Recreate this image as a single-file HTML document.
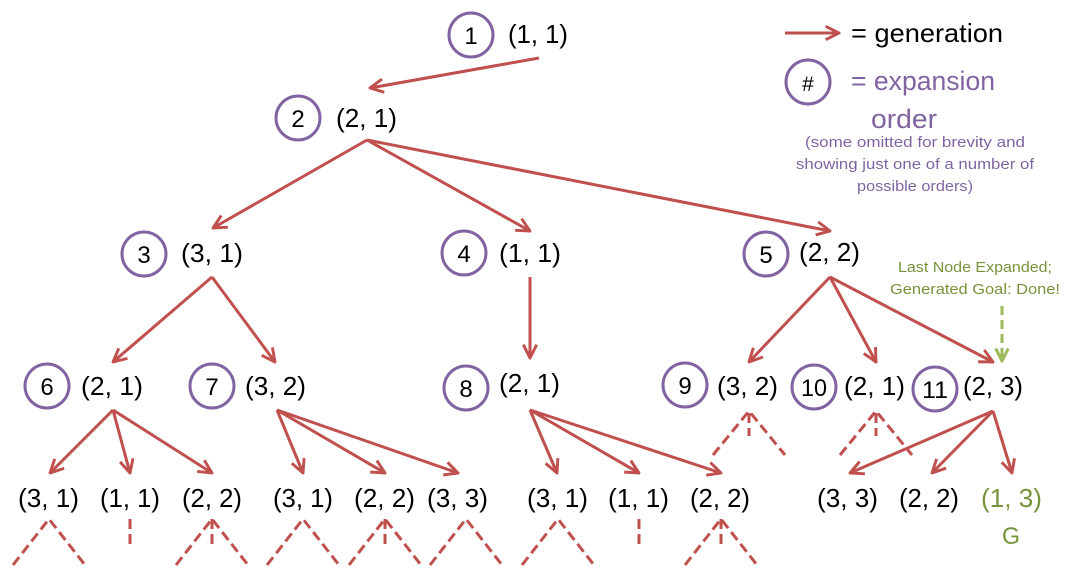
<!DOCTYPE html>
<html>
<head>
<meta charset="utf-8">
<style>
html,body{margin:0;padding:0;background:#fff;}
svg{display:block;}
text{font-family:"Liberation Sans",Arial,sans-serif;}
</style>
</head>
<body>
<svg width="1069" height="573" viewBox="0 0 1069 573" xmlns="http://www.w3.org/2000/svg">
<defs>
<marker id="a" viewBox="0 0 12 12" refX="11" refY="6" markerWidth="16" markerHeight="16" markerUnits="userSpaceOnUse" orient="auto">
<path d="M1,1 L11,6 L1,11" fill="none" stroke="#C0504D" stroke-width="2.2" stroke-linejoin="miter"/>
</marker>
<marker id="g" viewBox="0 0 12 12" refX="11" refY="6" markerWidth="15" markerHeight="15" markerUnits="userSpaceOnUse" orient="auto">
<path d="M1,1 L11,6 L1,11" fill="none" stroke="#9BBB59" stroke-width="2.4"/>
</marker>
</defs>

<!-- solid red arrows -->
<g stroke="#C0504D" stroke-width="3" fill="none" marker-end="url(#a)">
<line x1="539" y1="58" x2="370" y2="88"/>
<line x1="367" y1="140" x2="213" y2="228"/>
<line x1="367" y1="140" x2="530" y2="231"/>
<line x1="367" y1="140" x2="830" y2="231"/>
<line x1="212" y1="277" x2="113" y2="362"/>
<line x1="212" y1="277" x2="275" y2="362"/>
<line x1="530" y1="277" x2="530" y2="358"/>
<line x1="830" y1="277" x2="749" y2="362"/>
<line x1="830" y1="277" x2="876" y2="362"/>
<line x1="830" y1="277" x2="993" y2="362"/>
<line x1="113" y1="410" x2="50" y2="473"/>
<line x1="113" y1="410" x2="130" y2="473"/>
<line x1="113" y1="410" x2="212" y2="473"/>
<line x1="277" y1="410" x2="303" y2="473"/>
<line x1="277" y1="410" x2="385" y2="473"/>
<line x1="277" y1="410" x2="458" y2="473"/>
<line x1="530" y1="410" x2="557" y2="473"/>
<line x1="530" y1="410" x2="639" y2="473"/>
<line x1="530" y1="410" x2="721" y2="473"/>
<line x1="993" y1="411" x2="850" y2="473"/>
<line x1="993" y1="411" x2="932" y2="473"/>
<line x1="993" y1="411" x2="1012" y2="473"/>
<line x1="785" y1="33" x2="839" y2="33"/>
</g>

<!-- dashed red -->
<g stroke="#C0504D" stroke-width="3" fill="none" stroke-dasharray="10 5">
<polyline points="13,565 49,519 85,565"/>
<polyline points="176,565 212,519 248,565"/>
<line x1="212" y1="519" x2="212" y2="544"/>
<line x1="130" y1="519" x2="130" y2="544"/>
<polyline points="267,565 303,519 339,565"/>
<polyline points="349,565 385,519 421,565"/>
<line x1="385" y1="519" x2="385" y2="544"/>
<polyline points="430,565 466,519 502,565"/>
<polyline points="522,565 558,519 594,565"/>
<line x1="639" y1="519" x2="639" y2="544"/>
<polyline points="685,565 721,519 757,565"/>
<line x1="721" y1="519" x2="721" y2="544"/>
<polyline points="713,455 749,411 785,455"/>
<line x1="749" y1="413" x2="749" y2="436"/>
<polyline points="840,455 876,411 912,455"/>
<line x1="876" y1="413" x2="876" y2="436"/>
</g>

<!-- green dashed arrow -->
<line x1="1002" y1="306" x2="1002" y2="361" stroke="#9BBB59" stroke-width="3" stroke-dasharray="9 5" marker-end="url(#g)"/>

<!-- circles -->
<g stroke="#8064A2" stroke-width="3" fill="none">
<circle cx="471" cy="35" r="22"/>
<circle cx="298" cy="118" r="22"/>
<circle cx="144" cy="254" r="22"/>
<circle cx="464" cy="253" r="22"/>
<circle cx="766" cy="254" r="22"/>
<circle cx="47" cy="386" r="22"/>
<circle cx="212" cy="386" r="22"/>
<circle cx="466" cy="388" r="22"/>
<circle cx="685" cy="385" r="22"/>
<circle cx="814" cy="387" r="22"/>
<circle cx="935" cy="389" r="22"/>
<circle cx="808" cy="82" r="22"/>
</g>

<!-- circle numbers -->
<g font-size="24" fill="#000" text-anchor="middle">
<text x="471" y="44">1</text>
<text x="298" y="127">2</text>
<text x="144" y="263">3</text>
<text x="464" y="262">4</text>
<text x="766" y="263">5</text>
<text x="47" y="395">6</text>
<text x="212" y="395">7</text>
<text x="466" y="397">8</text>
<text x="685" y="394">9</text>
<text x="814" y="396" textLength="26" lengthAdjust="spacingAndGlyphs">10</text>
<text x="935" y="398" textLength="26" lengthAdjust="spacingAndGlyphs">11</text>
<text x="808" y="91" font-size="21">#</text>
</g>

<!-- node labels -->
<g font-size="26" fill="#000">
<text x="508" y="43" textLength="60" lengthAdjust="spacingAndGlyphs">(1, 1)</text>
<text x="336" y="127" textLength="61" lengthAdjust="spacingAndGlyphs">(2, 1)</text>
<text x="181" y="262" textLength="62" lengthAdjust="spacingAndGlyphs">(3, 1)</text>
<text x="499" y="262" textLength="62" lengthAdjust="spacingAndGlyphs">(1, 1)</text>
<text x="799" y="261" textLength="61" lengthAdjust="spacingAndGlyphs">(2, 2)</text>
<text x="81" y="395" textLength="62" lengthAdjust="spacingAndGlyphs">(2, 1)</text>
<text x="245" y="395" textLength="61" lengthAdjust="spacingAndGlyphs">(3, 2)</text>
<text x="499" y="392" textLength="61" lengthAdjust="spacingAndGlyphs">(2, 1)</text>
<text x="717" y="395" textLength="61" lengthAdjust="spacingAndGlyphs">(3, 2)</text>
<text x="844" y="395" textLength="61" lengthAdjust="spacingAndGlyphs">(2, 1)</text>
<text x="963" y="395" textLength="60" lengthAdjust="spacingAndGlyphs">(2, 3)</text>
<text x="18" y="507" textLength="61" lengthAdjust="spacingAndGlyphs">(3, 1)</text>
<text x="100" y="507" textLength="60" lengthAdjust="spacingAndGlyphs">(1, 1)</text>
<text x="182" y="507" textLength="60" lengthAdjust="spacingAndGlyphs">(2, 2)</text>
<text x="273" y="507" textLength="60" lengthAdjust="spacingAndGlyphs">(3, 1)</text>
<text x="354" y="507" textLength="61" lengthAdjust="spacingAndGlyphs">(2, 2)</text>
<text x="427" y="507" textLength="61" lengthAdjust="spacingAndGlyphs">(3, 3)</text>
<text x="527" y="507" textLength="61" lengthAdjust="spacingAndGlyphs">(3, 1)</text>
<text x="608" y="507" textLength="61" lengthAdjust="spacingAndGlyphs">(1, 1)</text>
<text x="690" y="507" textLength="60" lengthAdjust="spacingAndGlyphs">(2, 2)</text>
<text x="817" y="507" textLength="61" lengthAdjust="spacingAndGlyphs">(3, 3)</text>
<text x="899" y="507" textLength="60" lengthAdjust="spacingAndGlyphs">(2, 2)</text>
<text x="981" y="507" textLength="61" lengthAdjust="spacingAndGlyphs" fill="#77933C">(1, 3)</text>
</g>
<text x="1002" y="544" font-size="24" fill="#77933C" textLength="18" lengthAdjust="spacingAndGlyphs">G</text>

<!-- legend -->
<text x="851" y="42" font-size="26" fill="#000" textLength="152" lengthAdjust="spacingAndGlyphs">= generation</text>
<text x="851" y="90" font-size="27" fill="#8064A2" textLength="144" lengthAdjust="spacingAndGlyphs">= expansion</text>
<text x="871" y="128" font-size="27" fill="#8064A2" textLength="66" lengthAdjust="spacingAndGlyphs">order</text>
<g font-size="15" fill="#8064A2" text-anchor="middle">
<text x="915" y="147" textLength="220" lengthAdjust="spacingAndGlyphs">(some omitted for brevity and</text>
<text x="915" y="169" textLength="238" lengthAdjust="spacingAndGlyphs">showing just one of a number of</text>
<text x="915" y="191" textLength="116" lengthAdjust="spacingAndGlyphs">possible orders)</text>
</g>

<!-- green annotation -->
<g font-size="15" fill="#77933C">
<text x="898" y="272" textLength="154" lengthAdjust="spacingAndGlyphs">Last Node Expanded;</text>
<text x="890" y="294" textLength="170" lengthAdjust="spacingAndGlyphs">Generated Goal: Done!</text>
</g>
</svg>
</body>
</html>
